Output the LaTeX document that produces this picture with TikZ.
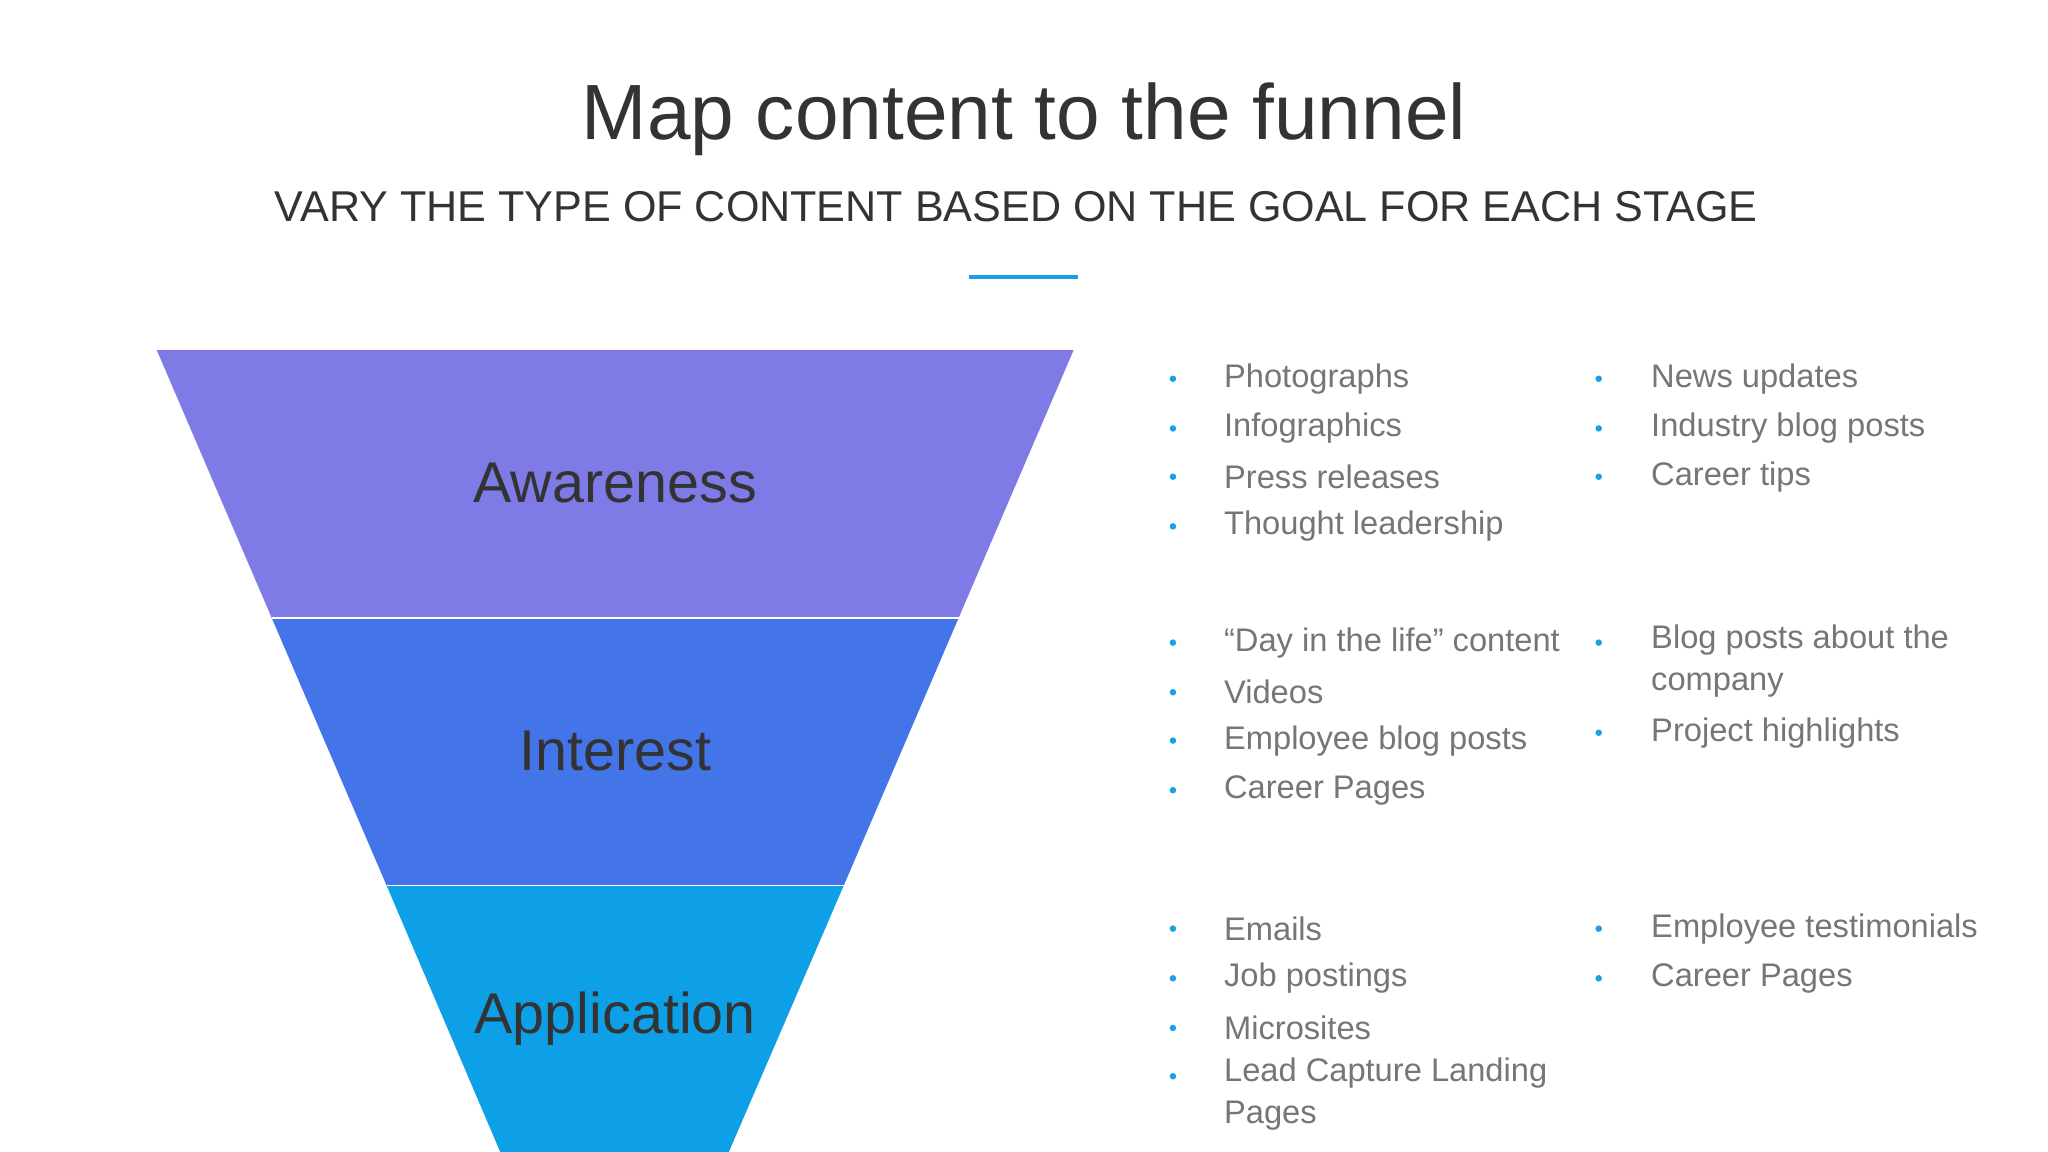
\documentclass[tikz,border=0pt]{standalone}
\usepackage{fontspec}
\setmainfont{Liberation Sans}
\definecolor{awc}{HTML}{7F7BE6}
\definecolor{inc}{HTML}{4374E8}
\definecolor{apc}{HTML}{0EA0E6}
\definecolor{dk}{HTML}{333333}
\definecolor{gr}{HTML}{767676}
\definecolor{bl}{HTML}{1BA1E2}
\begin{document}
\begin{tikzpicture}[x=1pt,y=-1pt,
  item/.style={anchor=west,text=gr,font=\fontsize{25}{32}\selectfont,inner sep=0pt,align=left},
  bul/.style={fill=bl,circle,inner sep=0pt,minimum size=5pt},
  stage/.style={text=dk,font=\fontsize{44}{50}\selectfont}]
\fill[white] (0,0) rectangle (1568,882);
\useasboundingbox (0,0) rectangle (1568,882);
\node[text=dk,font=\fontsize{60}{66}\selectfont] (title) at (784,91) {Map content to the funnel};
\node[text=dk,font=\fontsize{33}{38}\selectfont] (sub) at (778,158) {VARY THE TYPE OF CONTENT BASED ON THE GOAL FOR EACH STAGE};
\draw[bl,line width=3.5pt] (742,212) -- (825,212);
\fill[awc] (120,268) -- (822,268) -- (734,473) -- (208,473) -- cycle;
\fill[inc] (208,473) -- (734,473) -- (646,678) -- (296,678) -- cycle;
\fill[apc] (296,678) -- (646,678) -- (558,882) -- (383,882) -- cycle;
\draw[white,line width=1.2pt] (208,473) -- (734,473) (296,678) -- (646,678);
\node[stage] (a) at (471,370) {Awareness};
\node[stage] (i) at (471,575) {Interest};
\node[stage] (p) at (471,780) {Application};
\foreach \y/\t in {290/Photographs/Images,328/Infographics,365/Press releases,403/Thought leadership,492/“Day in the life” content,530/Videos,567/Employee blog posts,605/Career Pages,711/Emails/InMails,749/Job postings,787/Microsites}
 {\node[bul] at (898,\y) {}; \node[item] at (937,\y) {\t};}
\node[bul] at (898,824) {}; \node[item,anchor=north west] at (937,810) {Lead Capture Landing\\Pages};
\foreach \y/\t in {290/News updates,328/Industry blog posts,365/Career tips,561/Project highlights,711/Employee testimonials,749/Career Pages}
 {\node[bul] at (1224,\y) {}; \node[item] at (1264,\y) {\t};}
\node[bul] at (1224,492) {}; \node[item,anchor=north west] at (1264,478) {Blog posts about the\\company};
\end{tikzpicture}
\end{document}
